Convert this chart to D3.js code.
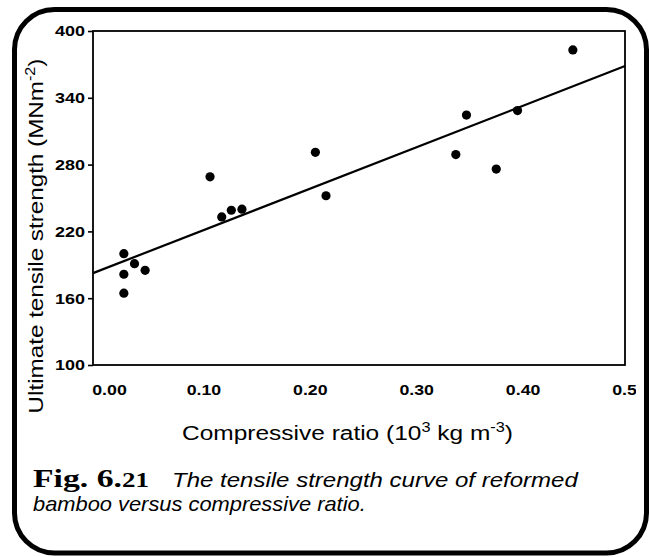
<!DOCTYPE html>
<html>
<head>
<meta charset="utf-8">
<script src="https://cdn.jsdelivr.net/npm/d3@7"></script>
<style>
    body { margin: 0; background: #fff; }
    svg { display: block; font-family: "Liberation Sans", Arial, Helvetica, sans-serif; }
</style>
</head>
<body>
<div id="chart"></div>
<script>
// compressive ratio (10^3 kg m^-3) and ultimate tensile strength (MNm^-2)
var ratio = [0.029, 0.039, 0.029, 0.049, 0.029, 0.110, 0.121, 0.130, 0.140, 0.209, 0.219, 0.341, 0.351, 0.379, 0.399, 0.451];
var strength = [200, 191, 181.5, 185, 164.5, 269, 233, 239, 240, 291, 252, 289, 324.5, 276, 328.5, 383];

// fitted straight line
var fitIntercept = 182.5;
var fitSlope = 372;

var xTicks = [0, 0.1, 0.2, 0.3, 0.4, 0.5];
var xTickLabels = ["0.00", "0.10", "0.20", "0.30", "0.40", "0.50"];
var yTicks = [100, 160, 220, 280, 340, 400];

var width = 649, height = 557;
var margin = { top: 31, right: 24, bottom: 192, left: 93 };

var svg = d3.select("#chart").append("svg")
    .attr("width", width)
    .attr("height", height);

var x = d3.scaleLinear().domain([0, 0.5]).range([margin.left, width - margin.right]);
var y = d3.scaleLinear().domain([100, 400]).range([height - margin.bottom, margin.top]);

// clip so the last tick label is cut by the border like in the print
svg.append("clipPath").attr("id", "cut")
    .append("rect").attr("x", 0).attr("y", 0).attr("width", 636).attr("height", height);

// width of a bold number label (print is slightly stretched)
function labelLength(s) {
    var w = 0;
    for (var i = 0; i < s.length; i++) w += s[i] == "." ? 4.5 : 10;
    return w;
}

// stretch a text horizontally (in its own frame) to a wanted length
function stretchTo(sel, target, base) {
    var len = sel.node().getBBox().width;
    sel.attr("transform", base + " scale(" + (target / len) + ",1)");
}

//y axis
var yAxis = svg.append("g")
    .attr("transform", "translate(" + margin.left + ",0)")
    .call(d3.axisLeft(y).tickValues(yTicks).tickSize(5).tickPadding(3));
yAxis.select(".domain").remove();
yAxis.selectAll("line").attr("stroke", "#000").attr("stroke-width", 1.6);
yAxis.selectAll("text")
    .style("font-size", "15px")
    .style("font-weight", "bold")
    .style("font-family", "'Liberation Sans', Arial, sans-serif")
    .attr("fill", "#000")
    .attr("textLength", function (d) { return labelLength(String(d)); })
    .attr("lengthAdjust", "spacingAndGlyphs");

//x axis
var xAxis = svg.append("g")
    .attr("transform", "translate(0," + (height - margin.bottom) + ")")
    .attr("clip-path", "url(#cut)")
    .call(d3.axisBottom(x).tickValues(xTicks).tickSizeInner(-4).tickSizeOuter(0).tickPadding(19)
        .tickFormat(function (d, i) { return xTickLabels[i]; }));
xAxis.select(".domain").remove();
xAxis.selectAll("line").attr("stroke", "#000").attr("stroke-width", 1.4);
xAxis.selectAll("text")
    .style("font-size", "15px")
    .style("font-weight", "bold")
    .style("font-family", "'Liberation Sans', Arial, sans-serif")
    .attr("fill", "#000")
    .attr("dx", function (d, i) { return i == 0 ? 16 : 4; })
    .attr("textLength", function (d, i) { return labelLength(xTickLabels[i]); })
    .attr("lengthAdjust", "spacingAndGlyphs");

//plot frame
svg.append("rect")
    .attr("x", x(0))
    .attr("y", y(400))
    .attr("width", x(0.5) - x(0))
    .attr("height", y(100) - y(400))
    .attr("fill", "none")
    .attr("stroke", "#000")
    .attr("stroke-width", 1.8);

//fitted line
var line = d3.line()
    .x(function (d) { return x(d); })
    .y(function (d) { return y(fitIntercept + fitSlope * d); });
svg.append("path")
    .datum(x.domain())
    .attr("d", line)
    .attr("fill", "none")
    .attr("stroke", "#000")
    .attr("stroke-width", 2.2);

//points
svg.selectAll("circle.pt")
    .data(ratio)
    .enter()
    .append("circle")
    .attr("class", "pt")
    .attr("cx", function (d) { return x(d); })
    .attr("cy", function (d, i) { return y(strength[i]); })
    .attr("r", 4.6)
    .attr("fill", "#000");

//axis titles
var xTitle = svg.append("text")
    .attr("text-anchor", "middle")
    .style("font-size", "21px");
xTitle.append("tspan").text("Compressive ratio (10");
xTitle.append("tspan").style("font-size", "14px").attr("dy", -8).text("3");
xTitle.append("tspan").attr("dy", 8).text(" kg m");
xTitle.append("tspan").style("font-size", "14px").attr("dy", -8).text("-3");
xTitle.append("tspan").attr("dy", 8).text(")");
stretchTo(xTitle, 331, "translate(347.5,440)");

var yTitle = svg.append("text")
    .attr("text-anchor", "middle")
    .style("font-size", "21px");
yTitle.append("tspan").text("Ultimate tensile strength (MNm");
yTitle.append("tspan").style("font-size", "14px").attr("dy", -8).text("-2");
yTitle.append("tspan").attr("dy", 8).text(")");
stretchTo(yTitle, 355, "translate(43,236) rotate(-90)");

//caption
var fig = svg.append("text")
    .style("font-family", "'Liberation Serif', 'Times New Roman', serif")
    .style("font-weight", "bold")
    .style("font-size", "25px");
fig.append("tspan").text("Fig. 6.");
fig.append("tspan").style("font-size", "20px").text("21");
stretchTo(fig, 116, "translate(33,487)");

var cap1 = svg.append("text")
    .style("font-size", "20px")
    .style("font-style", "italic")
    .text("The tensile strength curve of reformed");
stretchTo(cap1, 407, "translate(172,487)");

var cap2 = svg.append("text")
    .style("font-size", "20px")
    .style("font-style", "italic")
    .text("bamboo versus compressive ratio.");
stretchTo(cap2, 333, "translate(33,511)");

//outer rounded border
svg.append("rect")
    .attr("x", 14.5)
    .attr("y", 9.5)
    .attr("width", 632)
    .attr("height", 543.5)
    .attr("rx", 40)
    .attr("ry", 40)
    .attr("fill", "none")
    .attr("stroke", "#000")
    .attr("stroke-width", 5);
</script>
</body>
</html>
